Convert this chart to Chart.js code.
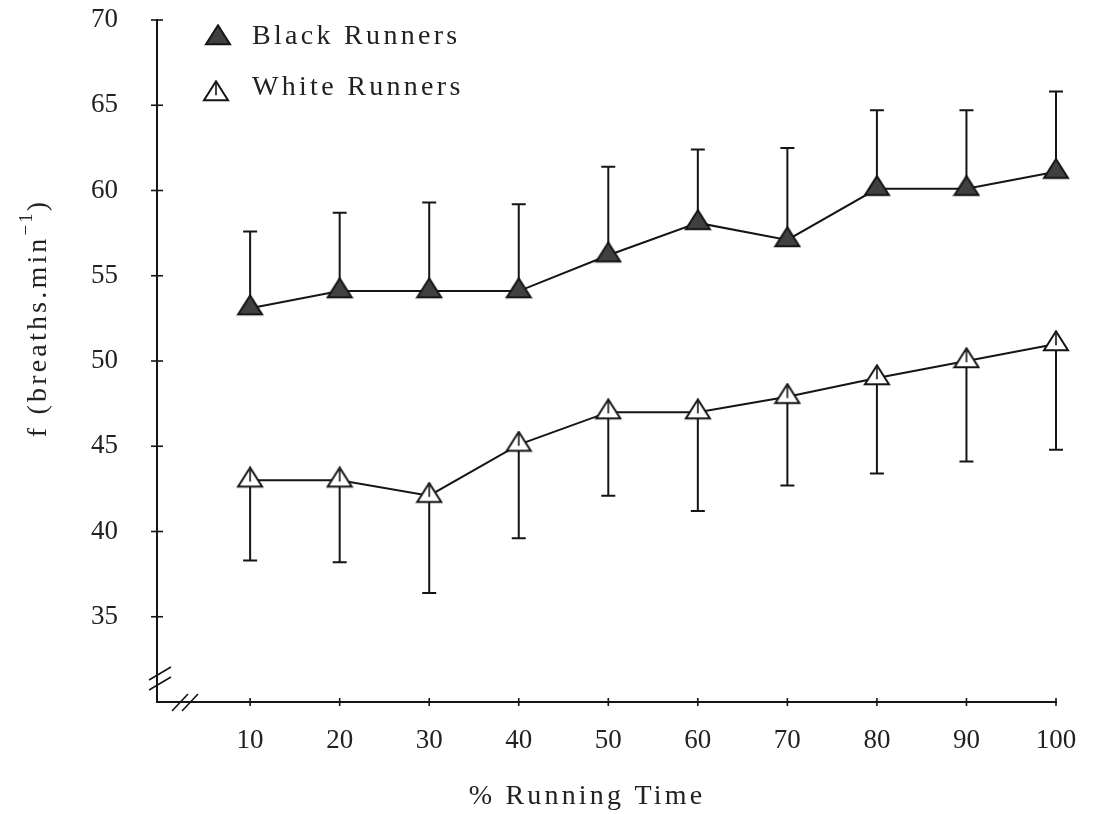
<!DOCTYPE html>
<html>
<head>
<meta charset="utf-8">
<title>Breathing frequency during running</title>
<script src="https://cdn.jsdelivr.net/npm/chart.js@4.4.1/dist/chart.umd.min.js"></script>
<style>
  html, body { margin: 0; padding: 0; background: #fff; }
  #wrap { width: 1097px; height: 814px; }
</style>
</head>
<body>
<div id="wrap"><canvas id="myChart" width="1097" height="814"></canvas></div>
<script>
// values
const pctTime = [10, 20, 30, 40, 50, 60, 70, 80, 90, 100];
const blackMean = [53.1, 54.1, 54.1, 54.1, 56.2, 58.1, 57.1, 60.1, 60.1, 61.1];
const blackUpper = [57.6, 58.7, 59.3, 59.2, 61.4, 62.4, 62.5, 64.7, 64.7, 65.8];
const whiteMean = [43.0, 43.0, 42.1, 45.1, 47.0, 47.0, 47.9, 49.0, 50.0, 51.0];
const whiteLower = [38.3, 38.2, 36.4, 39.6, 42.1, 41.2, 42.7, 43.4, 44.1, 44.8];
const yTicks = [35, 40, 45, 50, 55, 60, 65, 70];
const xTicks = [10, 20, 30, 40, 50, 60, 70, 80, 90, 100];

const ink = '#151515';
const FONT = "'Liberation Serif', 'Times New Roman', serif";
Chart.defaults.font.family = FONT;
Chart.defaults.color = '#222';

// triangle markers, drawn so the centroid sits at the canvas centre
function makeTriangle(filled) {
  const c = document.createElement('canvas');
  c.width = 28; c.height = 28;
  const g = c.getContext('2d');
  const w = 24, h = 19, cx = 14, cy = 14;
  const top = cy - h * 2 / 3, base = cy + h / 3;
  g.beginPath();
  g.moveTo(cx, top);
  g.lineTo(cx + w / 2, base);
  g.lineTo(cx - w / 2, base);
  g.closePath();
  g.fillStyle = filled ? '#404040' : '#fff';
  g.fill();
  g.lineWidth = 2;
  g.lineJoin = 'miter';
  g.strokeStyle = ink;
  g.stroke();
  if (!filled) {
    g.beginPath();
    g.moveTo(cx, top + 2);
    g.lineTo(cx, base - 5);
    g.lineWidth = 1.6;
    g.stroke();
  }
  return c;
}
const blackTri = makeTriangle(true);
const whiteTri = makeTriangle(false);

function spacedText(ctx, txt, x, y, spacing) {
  ctx.letterSpacing = spacing + 'px';
  ctx.fillText(txt, x, y);
  const w = ctx.measureText(txt).width;
  ctx.letterSpacing = '0px';
  return w;
}

// scales add tick padding to their edge padding; the figure has none
function noEdgePadding(s) {
  s.paddingTop = 0;
  s.paddingBottom = 0;
  s.paddingLeft = 0;
  s.paddingRight = 0;
}

const extras = {
  id: 'extras',
  beforeDatasetsDraw(chart) {
    const ctx = chart.ctx;
    const xs = chart.scales.x, ys = chart.scales.y;
    ctx.save();
    ctx.strokeStyle = ink;
    ctx.lineWidth = 2;
    const bars = [[blackMean, blackUpper], [whiteMean, whiteLower]];
    bars.forEach(([mean, end]) => {
      pctTime.forEach((t, i) => {
        const px = xs.getPixelForValue(t);
        const y0 = ys.getPixelForValue(mean[i]);
        const y1 = ys.getPixelForValue(end[i]);
        ctx.beginPath();
        ctx.moveTo(px, y0);
        ctx.lineTo(px, y1);
        ctx.moveTo(px - 7, y1);
        ctx.lineTo(px + 7, y1);
        ctx.stroke();
      });
    });
    ctx.restore();
  },
  afterDraw(chart) {
    const ctx = chart.ctx;
    const xs = chart.scales.x, ys = chart.scales.y;
    const area = chart.chartArea;
    ctx.save();
    ctx.strokeStyle = ink;
    ctx.lineWidth = 1.6;
    // tick marks crossing the axes
    ys.ticks.forEach(t => {
      const py = ys.getPixelForValue(t.value);
      ctx.beginPath();
      ctx.moveTo(area.left - 6, py);
      ctx.lineTo(area.left + 6, py);
      ctx.stroke();
    });
    xs.ticks.forEach(t => {
      const px = xs.getPixelForValue(t.value);
      ctx.beginPath();
      ctx.moveTo(px, area.bottom - 4);
      ctx.lineTo(px, area.bottom + 4);
      ctx.stroke();
    });
    // axis break marks
    const l = area.left, b = area.bottom;
    ctx.beginPath();
    ctx.moveTo(l - 8, b - 22); ctx.lineTo(l + 14, b - 35);
    ctx.moveTo(l - 8, b - 12); ctx.lineTo(l + 14, b - 25);
    ctx.moveTo(l + 15, b + 9); ctx.lineTo(l + 31, b - 8);
    ctx.moveTo(l + 25, b + 9); ctx.lineTo(l + 41, b - 8);
    ctx.stroke();

    // legend
    ctx.fillStyle = '#222';
    ctx.font = '28px ' + FONT;
    ctx.textBaseline = 'middle';
    ctx.textAlign = 'left';
    ctx.drawImage(blackTri, 218 - 14, 38 - 14);
    spacedText(ctx, 'Black Runners', 252, 37, 3.3);
    ctx.drawImage(whiteTri, 216 - 14, 94 - 14);
    spacedText(ctx, 'White Runners', 252, 88, 3.3);

    // x axis title
    ctx.letterSpacing = '3.2px';
    const xt = '% Running Time';
    const xw = ctx.measureText(xt).width;
    ctx.fillText(xt, 587 - xw / 2, 797);
    ctx.letterSpacing = '0px';

    // y axis title with superscript
    ctx.translate(46, 318);
    ctx.rotate(-Math.PI / 2);
    ctx.textBaseline = 'alphabetic';
    const main = 'f (breaths.min';
    ctx.font = '28px ' + FONT;
    ctx.letterSpacing = '3.2px';
    const w1 = ctx.measureText(main).width;
    ctx.font = '19px ' + FONT;
    ctx.letterSpacing = '2px';
    const w2 = ctx.measureText('\u22121').width;
    ctx.font = '28px ' + FONT;
    ctx.letterSpacing = '3.2px';
    const w3 = ctx.measureText(')').width;
    const x0 = -(w1 + w2 + w3) / 2;
    ctx.fillText(main, x0, 0);
    ctx.font = '19px ' + FONT;
    ctx.letterSpacing = '2px';
    ctx.fillText('\u22121', x0 + w1, -14);
    ctx.font = '28px ' + FONT;
    ctx.letterSpacing = '3.2px';
    ctx.fillText(')', x0 + w1 + w2, 0);
    ctx.restore();
  }
};

const ctx = document.getElementById('myChart');

new Chart(ctx, {
  type: 'line',
  data: {
    datasets: [{
      label: 'Black Runners',
      data: pctTime.map((t, i) => ({ x: t, y: blackMean[i] })),
      borderColor: ink,
      borderWidth: 2,
      pointStyle: blackTri,
      pointRadius: 12,
      tension: 0
    }, {
      label: 'White Runners',
      data: pctTime.map((t, i) => ({ x: t, y: whiteMean[i] })),
      borderColor: ink,
      borderWidth: 2,
      pointStyle: whiteTri,
      pointRadius: 12,
      tension: 0
    }]
  },
  options: {
    responsive: false,
    animation: false,
    clip: false,
    layout: { padding: { top: 20, right: 41, left: 0, bottom: 0 } },
    plugins: {
      legend: { display: false },
      tooltip: { enabled: false }
    },
    scales: {
      x: {
        type: 'linear',
        min: -0.4,
        max: 100,
        afterBuildTicks: s => { s.ticks = xTicks.map(v => ({ value: v })); },
        afterFit: s => { s.height = 112; noEdgePadding(s); },
        grid: { display: false, drawTicks: false },
        border: { display: true, color: ink, width: 2 },
        ticks: { padding: 23, maxRotation: 0, autoSkip: false, color: '#222', font: { size: 27 } }
      },
      y: {
        min: 30,
        max: 70,
        afterBuildTicks: s => { s.ticks = yTicks.map(v => ({ value: v })); },
        afterFit: s => { s.width = 157; noEdgePadding(s); },
        grid: { display: false, drawTicks: false },
        border: { display: true, color: ink, width: 2 },
        ticks: { padding: 39, color: '#222', font: { size: 27 } }
      }
    }
  },
  plugins: [extras]
});
</script>
</body>
</html>
